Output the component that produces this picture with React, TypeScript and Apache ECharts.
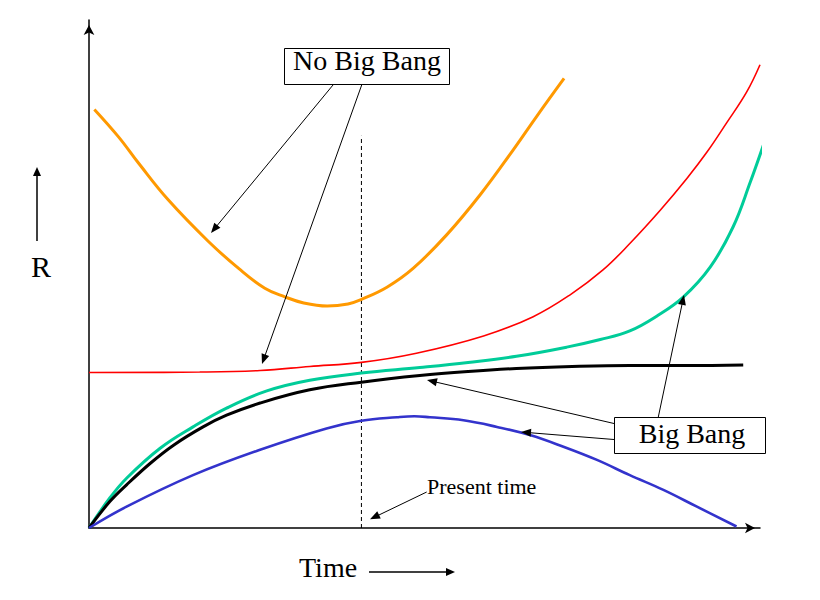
import React, { useEffect, useRef } from "react";
import * as echarts from "echarts";

// Curves (x: time, y: R), in arbitrary units
const noBigBangOrange: [number, number][] = [
  [0.08, 8.24], [0.44, 7.7], [0.74, 7.18], [1.18, 6.46], [1.78, 5.64], [2.23, 5.11],
  [2.62, 4.72], [2.92, 4.55], [3.2, 4.43], [3.55, 4.37], [3.86, 4.41], [4.06, 4.5], [4.44, 4.74],
  [4.83, 5.11], [5.33, 5.77], [5.83, 6.56], [6.32, 7.44], [6.67, 8.1], [7.08, 8.85],
];
const noBigBangRed: [number, number][] = [
  [0, 3.06], [1.65, 3.07], [2.55, 3.1], [3.29, 3.18], [4.06, 3.26], [4.88, 3.44],
  [5.88, 3.78], [6.62, 4.16], [7.17, 4.59], [7.66, 5.08], [8.06, 5.6], [8.51, 6.25],
  [8.91, 6.88], [9.21, 7.4], [9.5, 7.97], [9.8, 8.58], [10.0, 9.12],
];
const bigBangTeal: [number, number][] = [
  [0, 0], [0.31, 0.59], [0.56, 0.98], [1.06, 1.57], [1.55, 1.99], [2.05, 2.36],
  [2.65, 2.7], [3.29, 2.91], [4.06, 3.05], [4.93, 3.16], [5.65, 3.26], [6.37, 3.38],
  [7.12, 3.56], [7.62, 3.71], [8.06, 3.88], [8.46, 4.17], [8.86, 4.55], [9.26, 5.14],
  [9.6, 5.93], [9.85, 6.79], [10.09, 7.69],
];
const bigBangBlack: [number, number][] = [
  [0, 0], [0.31, 0.52], [0.56, 0.85], [0.91, 1.27], [1.26, 1.63], [1.7, 1.99],
  [2.05, 2.22], [2.55, 2.46], [3.29, 2.72], [4.06, 2.87], [4.93, 3.0], [5.65, 3.08],
  [6.37, 3.14], [7.2, 3.18], [8.06, 3.2], [8.9, 3.2], [9.75, 3.21],
];
const bigBangBlue: [number, number][] = [
  [0, 0], [0.56, 0.42], [1.55, 1.04], [2.55, 1.54], [3.54, 1.96], [4.06, 2.11],
  [4.59, 2.18], [4.85, 2.2], [5.08, 2.18], [5.58, 2.12], [6.08, 1.99], [6.57, 1.83], [7.07, 1.6],
  [7.57, 1.34], [8.06, 1.04], [8.56, 0.75], [9.06, 0.42], [9.65, 0.03],
];
const presentTime = 4.06;
const presentLineTop = 7.72;

const labels = {
  noBigBang: "No Big Bang",
  bigBang: "Big Bang",
  present: "Present time",
  xName: "Time",
  yName: "R",
};

const serifFont = (size: number) => `${size}px "Liberation Serif", "DejaVu Serif", serif`;

function arrow(x1: number, y1: number, x2: number, y2: number, len = 10, half = 4, width = 1) {
  const dx = x2 - x1, dy = y2 - y1;
  const d = Math.hypot(dx, dy);
  const ux = dx / d, uy = dy / d;
  const bx = x2 - ux * len, by = y2 - uy * len;
  return [
    {
      type: "line",
      shape: { x1, y1, x2: bx + ux * 2, y2: by + uy * 2 },
      style: { stroke: "#000", lineWidth: width },
      z: 100,
    },
    {
      type: "polygon",
      shape: { points: [[x2, y2], [bx - uy * half, by + ux * half], [bx + uy * half, by - ux * half]] },
      style: { fill: "#000" },
      z: 100,
    },
  ];
}

function label(text: string, x: number, y: number, size: number, align: string) {
  return {
    type: "text",
    style: { text, x, y, align, verticalAlign: "middle", font: serifFont(size), fill: "#000" },
    z: 101,
  };
}

export default function App() {
  const ref = useRef<HTMLDivElement>(null);
  useEffect(() => {
    if (!ref.current) return;
    const chart = echarts.init(ref.current, undefined, { renderer: "svg" });
    const lineSeries = (data: [number, number][], color: string, width: number) => ({
      type: "line",
      data,
      smooth: 0.4,
      showSymbol: false,
      symbol: "none",
      clip: false,
      lineStyle: { color, width },
      silent: true,
    });
    const axisCommon = {
      type: "value",
      min: 0,
      max: 10,
      axisLine: {
        show: true,
        lineStyle: { color: "#000", width: 1.5 },
        symbol: ["none", "arrow"],
        symbolSize: [8, 10],
        symbolOffset: [0, -5],
      },
      axisTick: { show: false },
      axisLabel: { show: false },
      splitLine: { show: false },
    };
    chart.setOption({
      animation: false,
      grid: { left: 89, right: 60, top: 20, bottom: 72 },
      xAxis: axisCommon,
      yAxis: axisCommon,
      series: [
        {
          type: "line",
          data: [[presentTime, 0], [presentTime, presentLineTop]],
          showSymbol: false,
          symbol: "none",
          lineStyle: { color: "#000", width: 1, type: [4, 3] },
          silent: true,
        },
        lineSeries(noBigBangOrange, "#FF9900", 3),
        lineSeries(noBigBangRed, "#FF0000", 1.6),
        lineSeries(bigBangTeal, "#00CC99", 3),
        lineSeries(bigBangBlack, "#000000", 3),
        lineSeries(bigBangBlue, "#3333CC", 2.6),
      ],
      graphic: {
        elements: [
          {
            type: "rect",
            shape: { x: 284.5, y: 48.5, width: 165, height: 36 },
            style: { fill: "#fff", stroke: "#000", lineWidth: 1 },
            z: 100,
          },
          label(labels.noBigBang, 367, 60, 28, "center"),
          ...arrow(333, 85, 211, 233),
          ...arrow(361.7, 85, 262, 364),
          {
            type: "rect",
            shape: { x: 614.5, y: 417.5, width: 151, height: 36 },
            style: { fill: "#fff", stroke: "#000", lineWidth: 1 },
            z: 100,
          },
          label(labels.bigBang, 692, 433, 28, "center"),
          ...arrow(614, 423.5, 427, 380),
          ...arrow(614, 439.5, 521, 432),
          ...arrow(658.3, 417, 684, 295),
          label(labels.present, 427, 486, 22, "left"),
          ...arrow(426.7, 492, 370, 519.3),
          label(labels.yName, 31, 266.5, 30, "left"),
          ...arrow(37, 241, 37, 167, 9, 4, 1.5),
          label(labels.xName, 299, 567.5, 28, "left"),
          ...arrow(369, 572, 455, 572, 9, 4, 1.5),
        ],
      },
    });
    return () => chart.dispose();
  }, []);
  return (
    <div
      ref={ref}
      style={{ position: "fixed", left: 0, top: 0, width: 820, height: 600, background: "#fff" }}
    />
  );
}
